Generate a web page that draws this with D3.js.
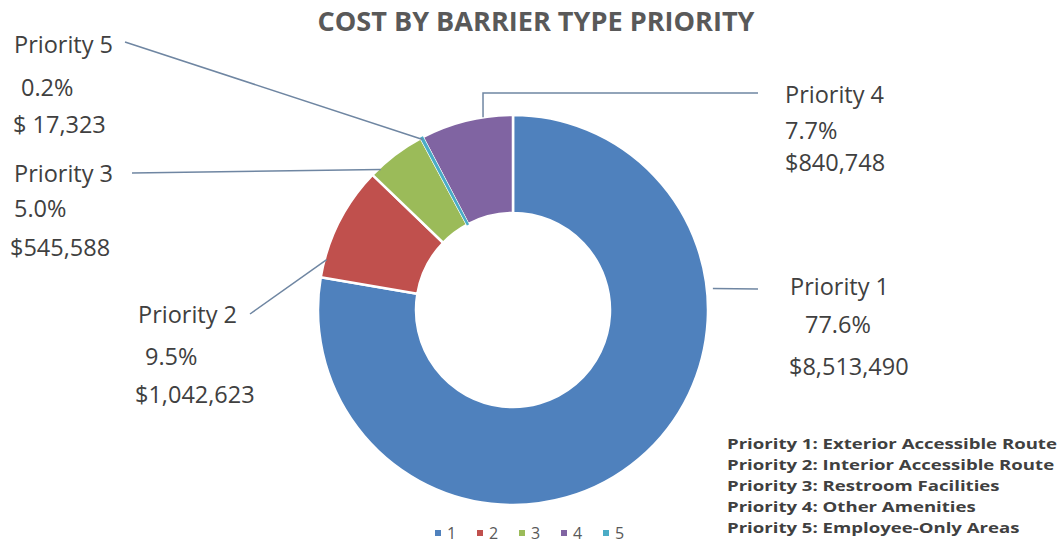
<!DOCTYPE html>
<html>
<head>
<meta charset="utf-8">
<script src="https://cdn.jsdelivr.net/npm/d3@7"></script>
<style>
    body { margin: 0; background: #fff; }
    svg { display: block; }
    text { font-family: "Open Sans", sans-serif; }
</style>
</head>
<body>
<div id="chart"></div>
<script>
// chart data
const categories = ['1', '2', '3', '4', '5'];
const costs = [8513490, 1042623, 545588, 840748, 17323];
const percents = ['77.6%', '9.5%', '5.0%', '7.7%', '0.2%'];
const costLabels = ['$8,513,490', '$1,042,623', '$545,588', '$840,748', '$ 17,323'];
const sliceOrder = ['1', '2', '3', '5', '4'];
const notes = [
    'Priority 1: Exterior Accessible Route',
    'Priority 2: Interior Accessible Route',
    'Priority 3: Restroom Facilities',
    'Priority 4: Other Amenities',
    'Priority 5: Employee-Only Areas'
];

const colors = ['#4F81BD', '#C0504D', '#9BBB59', '#8064A2', '#4BACC6'];

// where each data label sits and how its leader line runs
const labelLayout = {
    '1': { frac: 0.30, r: 201, path: [[758, 289]], lines: [[790, 295], [805, 333], [789, 375]] },
    '2': { frac: 0.16, r: 193, path: [[250, 314]], lines: [[138, 323], [145, 365], [135, 403]] },
    '3': { frac: 0.16, r: 193, path: [[132, 173]], lines: [[14, 182], [14, 217], [10, 256]] },
    '4': { frac: 0.68, r: 195, path: [[483, 93], [758, 93]], lines: [[785, 103], [785, 139], [785, 171]] },
    '5': { frac: 0.50, r: 193, path: [[125, 42]], lines: [[14, 53], [21, 96], [13, 133]] }
};

const width = 1063;
const height = 544;
const cx = 513, cy = 310;
const outerR = 195, innerR = 97;

const data = categories.map((c, i) => ({
    cat: c, value: costs[i], pct: percents[i], cost: costLabels[i], color: colors[i]
}));

const svg = d3.select('#chart').append('svg')
    .attr('width', width)
    .attr('height', height);

svg.append('text')
    .attr('x', 536)
    .attr('y', 31)
    .attr('text-anchor', 'middle')
    .attr('font-size', 26)
    .attr('font-weight', 'bold')
    .attr('fill', '#595959')
    .attr('textLength', 437)
    .attr('lengthAdjust', 'spacingAndGlyphs')
    .text('COST BY BARRIER TYPE PRIORITY');

const pie = d3.pie()
    .value(d => d.value)
    .sort((a, b) => sliceOrder.indexOf(a.cat) - sliceOrder.indexOf(b.cat));

const arc = d3.arc()
    .innerRadius(innerR)
    .outerRadius(outerR);

const g = svg.append('g')
    .attr('transform', `translate(${cx},${cy})`);

const arcs = pie(data);

g.selectAll('path.slice')
    .data(arcs)
    .enter().append('path')
    .attr('class', 'slice')
    .attr('d', arc)
    .attr('fill', d => d.data.color)
    .attr('stroke', '#fff')
    .attr('stroke-width', 2.5);

// the tiny priority 5 slice gets drawn again on top so the white edges don't hide it
g.append('path')
    .datum(arcs.find(a => a.data.cat === '5'))
    .attr('d', arc)
    .attr('fill', d => d.data.color)
    .attr('stroke', d => d.data.color)
    .attr('stroke-width', 1.5);

// leader lines
arcs.forEach(a => {
    const lay = labelLayout[a.data.cat];
    const ang = a.startAngle + lay.frac * (a.endAngle - a.startAngle);
    const start = [cx + lay.r * Math.sin(ang), cy - lay.r * Math.cos(ang)];
    svg.append('path')
        .attr('d', d3.line()([start].concat(lay.path)))
        .attr('fill', 'none')
        .attr('stroke', '#6f86a2')
        .attr('stroke-width', 1.5);
});

// data labels
data.forEach(d => {
    const lay = labelLayout[d.cat];
    const texts = ['Priority ' + d.cat, d.pct, d.cost];
    texts.forEach((t, i) => {
        svg.append('text')
            .attr('x', lay.lines[i][0])
            .attr('y', lay.lines[i][1])
            .attr('font-size', 23.5)
            .attr('fill', '#404040')
            .text(t);
    });
});

// bottom legend
const legendX = d3.scalePoint()
    .domain(categories)
    .range([435, 603]);

const legend = svg.selectAll('g.legend')
    .data(data)
    .enter().append('g')
    .attr('class', 'legend')
    .attr('transform', d => `translate(${legendX(d.cat)},533)`);

legend.append('rect')
    .attr('x', 0)
    .attr('y', -3)
    .attr('width', 6)
    .attr('height', 6)
    .attr('fill', d => d.color);

legend.append('text')
    .attr('x', 12)
    .attr('y', 6)
    .attr('font-size', 16)
    .attr('fill', '#595959')
    .text(d => d.cat);

// priority notes (stretched a little wider, like the original)
const notesG = svg.append('g')
    .attr('transform', 'translate(727,0) scale(1.24,1)');

notesG.selectAll('text.note')
    .data(notes)
    .enter().append('text')
    .attr('class', 'note')
    .attr('x', 0)
    .attr('y', (d, i) => 449 + i * 21)
    .attr('font-size', 15)
    .attr('font-weight', 'bold')
    .attr('fill', '#404040')
    .text(d => d);
</script>
</body>
</html>
